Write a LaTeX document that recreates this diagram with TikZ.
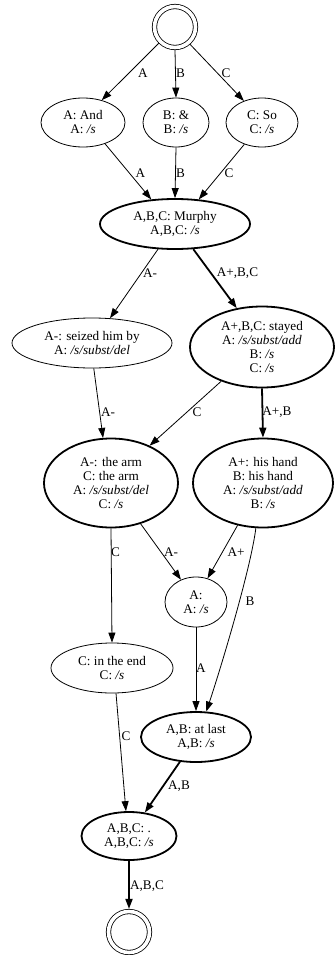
\documentclass[tikz,border=0pt]{standalone}
\usepackage{fontspec}
\setmainfont{Liberation Serif}
\usetikzlibrary{shapes.geometric,arrows.meta}

\begin{document}
\begin{tikzpicture}[x=1pt,y=-1pt,
  every node/.style={font=\fontsize{13.2}{14}\selectfont},
  state/.style={ellipse, draw, line width=0.8pt, inner sep=0pt, align=center},
  boldstate/.style={state, line width=1.8pt},
  terminal/.style={circle, draw, line width=0.8pt, double, double distance=3.6pt,
    minimum size=41pt, inner sep=0pt, outer sep=2.6pt},
  edge/.style={line width=0.8pt, -{Triangle[length=10pt,width=7pt]}},
  boldedge/.style={edge, line width=1.8pt},
  lbl/.style={inner sep=0pt}
]
\useasboundingbox (0,0) rectangle (335,955);

% states
\node[terminal] (start) at (175,27) {};
\node[state, minimum width=84pt, minimum height=49pt] (and) at (83,122.5) {A: And\\A: \textit{/s}};
\node[state, minimum width=66pt, minimum height=49pt] (amp) at (176,122.5) {B: \&\\B: \textit{/s}};
\node[state, minimum width=72pt, minimum height=49pt] (so) at (262,122.5) {C: So\\C: \textit{/s}};
\node[boldstate, minimum width=150pt, minimum height=50pt] (murphy) at (175,224) {A,B,C: Murphy\\A,B,C: \textit{/s}};
\node[state, minimum width=160pt, minimum height=50pt] (seized) at (92,343) {A-: seized him by\\A: \textit{/s/subst/del}};
\node[boldstate, minimum width=144pt, minimum height=81pt] (stayed) at (262,347) {A+,B,C: stayed\\A: \textit{/s/subst/add}\\B: \textit{/s}\\C: \textit{/s}};
\node[boldstate, minimum width=134pt, minimum height=89pt] (arm) at (111,483) {A-: the arm\\C: the arm\\A: \textit{/s/subst/del}\\C: \textit{/s}};
\node[boldstate, minimum width=140pt, minimum height=89pt] (hand) at (263,483) {A+: his hand\\B: his hand\\A: \textit{/s/subst/add}\\B: \textit{/s}};
\node[state, minimum width=62pt, minimum height=50pt] (anode) at (196,602) {A:\\A: \textit{/s}};
\node[state, minimum width=122pt, minimum height=50pt] (inend) at (112,668) {C: in the end\\C: \textit{/s}};
\node[boldstate, minimum width=110pt, minimum height=50pt] (atlast) at (196,737) {A,B: at last\\A,B: \textit{/s}};
\node[boldstate, minimum width=95pt, minimum height=48pt] (final) at (129,836) {A,B,C: .\\A,B,C: \textit{/s}};
\node[terminal] (end) at (129,932) {};

% transitions
\draw[edge] (start.225) -- (and.50);
\draw[edge] (start.270) -- (amp.90);
\draw[edge] (start.311) -- (so.130);
\draw[edge] (and.316) -- (murphy.134);
\draw[edge] (amp.270) -- (murphy.90);
\draw[edge] (so.231) -- (murphy.46);
\draw[edge] (murphy.236) -- (seized.54);
\draw[boldedge] (murphy.306) -- (stayed.123);
\draw[edge] (seized.274) -- (arm.100);
\draw[edge] (stayed.220) -- (arm.44);
\draw[boldedge] (stayed.270) -- (hand.90);
\draw[edge] (arm.270) -- (inend.90);
\draw[edge] (arm.306) -- (anode.124);
\draw[edge] (hand.239) -- (anode.64);
\draw[edge] (hand.261) .. controls +(-5,40) and +(15,-45) .. (atlast.68);
\draw[edge] (anode.270) -- (atlast.90);
\draw[edge] (inend.279) -- (final.97);
\draw[boldedge] (atlast.237) -- (final.56);
\draw[boldedge] (final.270) -- (end.90);

% transition labels
\node[lbl] (l1) at (143,73) {A};
\node[lbl] (l2) at (180.5,73) {B};
\node[lbl] (l3) at (226,73) {C};
\node[lbl] (l4) at (140.5,173) {A};
\node[lbl] (l5) at (180.5,173) {B};
\node[lbl] (l6) at (229,173) {C};
\node[lbl] (l7) at (150,273) {A-};
\node[lbl] (l8) at (237.5,273) {A+,B,C};
\node[lbl] (l9) at (108,412) {A-};
\node[lbl] (l10) at (197,412) {C};
\node[lbl] (l11) at (277,412) {A+,B};
\node[lbl] (l12) at (115.5,552) {C};
\node[lbl] (l13) at (171,552) {A-};
\node[lbl] (l14) at (236,552) {A+};
\node[lbl] (l15) at (250,601) {B};
\node[lbl] (l16) at (201,668) {A};
\node[lbl] (l17) at (126,736) {C};
\node[lbl] (l18) at (179,786) {A,B};
\node[lbl] (l19) at (147,886) {A,B,C};
\end{tikzpicture}
\end{document}
